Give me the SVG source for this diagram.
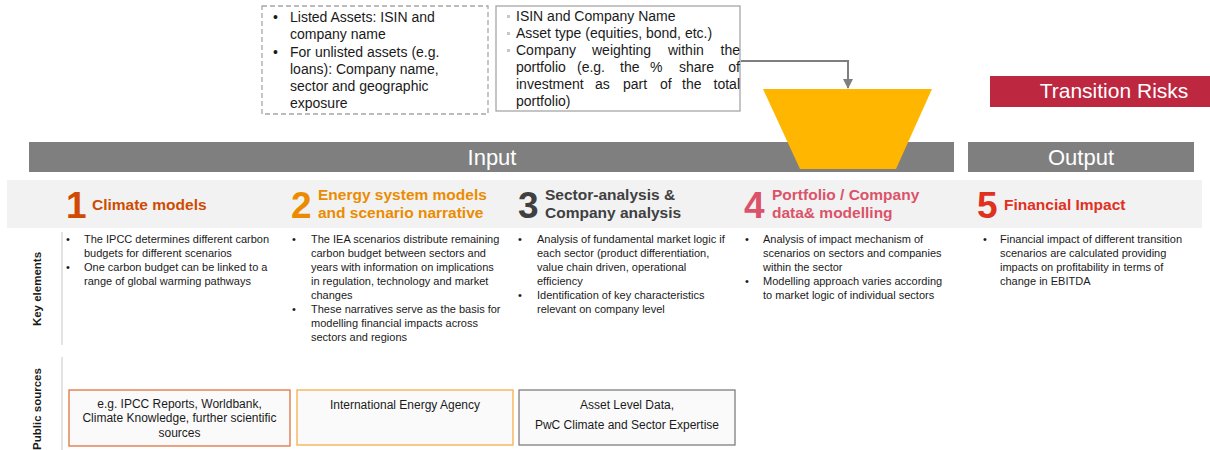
<svg xmlns="http://www.w3.org/2000/svg" width="1210" height="450" viewBox="0 0 1210 450">
<defs>
<style>
text{font-family:"Liberation Sans",Arial,sans-serif;}
.top{font-size:14px;fill:#1a1a1a;}
.e{text-anchor:end;}
.b{font-size:11px;fill:#1a1a1a;}
.num{font-size:37px;font-weight:bold;}
.hd{font-size:15.5px;font-weight:bold;}
.bar{fill:#7f7f7f;}
.bartxt{font-size:22px;fill:#ffffff;text-anchor:middle;}
.side{font-size:11.5px;font-weight:bold;fill:#1a1a1a;text-anchor:middle;}
.src{font-size:12px;fill:#1a1a1a;text-anchor:middle;}
.sep{stroke:#c8c8c8;stroke-width:1;}
</style>
<marker id="arr" viewBox="0 0 10 10" refX="9" refY="5" markerWidth="5" markerHeight="5" orient="auto" markerUnits="strokeWidth">
<path d="M0,0 L10,5 L0,10 z" fill="#7f7f7f"/>
</marker>
</defs>
<rect width="1210" height="450" fill="#ffffff"/>

<g id="unlisted-box">
<rect x="262" y="6" width="226" height="108" fill="none" stroke="#a6a6a6" stroke-width="1.3" stroke-dasharray="5,3"/>
<text class="top" x="273" y="22">•</text>
<text class="top" x="290" y="22">Listed Assets: ISIN and</text>
<text class="top" x="290" y="39">company name</text>
<text class="top" x="273" y="57">•</text>
<text class="top" x="290" y="57">For unlisted assets (e.g.</text>
<text class="top" x="290" y="74">loans): Company name,</text>
<text class="top" x="290" y="91">sector and geographic</text>
<text class="top" x="290" y="108">exposure</text>
</g>

<g id="portfolio-box">
<rect x="496" y="6" width="244" height="105" fill="none" stroke="#a6a6a6" stroke-width="1.3"/>
<rect x="507" y="15" width="3" height="3" fill="#c8c8c8"/>
<rect x="507" y="32" width="3" height="3" fill="#c8c8c8"/>
<rect x="507" y="49" width="3" height="3" fill="#c8c8c8"/>
<text class="top" x="516" y="21">ISIN and Company Name</text>
<text class="top" x="516" y="38">Asset type (equities, bond, etc.)</text>
<text class="top" x="516" y="55">Company</text>
<text class="top" x="592" y="55">weighting</text>
<text class="top" x="668" y="55">within</text>
<text class="top e" x="740" y="55">the</text>
<text class="top" x="516" y="72">portfolio</text>
<text class="top" x="577" y="72">(e.g.</text>
<text class="top" x="620" y="72">the</text>
<text class="top" x="650" y="72">%</text>
<text class="top" x="679" y="72">share</text>
<text class="top e" x="740" y="72">of</text>
<text class="top" x="516" y="89">investment</text>
<text class="top" x="595" y="89">as</text>
<text class="top" x="623" y="89">part</text>
<text class="top" x="660" y="89">of</text>
<text class="top" x="682" y="89">the</text>
<text class="top e" x="740" y="89">total</text>
<text class="top" x="516" y="106">portfolio)</text>
</g>

<g id="transition-risks">
<rect x="990" y="76" width="220" height="31" fill="#bd2740"/>
<text x="1114" y="98" font-size="21" fill="#ffffff" text-anchor="middle">Transition Risks</text>
</g>

<g id="input-bar">
<rect class="bar" x="29" y="142" width="925" height="30"/>
<text class="bartxt" x="492" y="165">Input</text>
</g>
<g id="output-bar">
<rect class="bar" x="968" y="142" width="226" height="30"/>
<text class="bartxt" x="1081" y="165">Output</text>
</g>

<g id="funnel">
<polygon points="763,89 932,89 896,169 800,169" fill="#ffb600"/>
</g>

<g id="connectors">
<polyline points="741,61 848,61 848,88" fill="none" stroke="#7f7f7f" stroke-width="2" marker-end="url(#arr)"/>
</g>

<g id="header-band">
<rect x="7" y="180" width="1195" height="48" fill="#f2f2f2"/>
</g>

<g id="col1">
<text class="num" x="66" y="218" fill="#d04a02">1</text>
<text class="hd" x="92" y="210" fill="#d04a02">Climate models</text>
<text class="b" x="66" y="243">•</text>
<text class="b" x="84" y="243">The IPCC determines different carbon</text>
<text class="b" x="84" y="257">budgets for different scenarios</text>
<text class="b" x="66" y="271">•</text>
<text class="b" x="84" y="271">One carbon budget can be linked to a</text>
<text class="b" x="84" y="285">range of global warming pathways</text>
<rect x="69" y="390" width="221" height="56" fill="#fafafa" stroke="#e0733f" stroke-width="1.3"/>
<text class="src" x="179.5" y="408">e.g. IPCC Reports, Worldbank,</text>
<text class="src" x="179.5" y="422">Climate Knowledge, further scientific</text>
<text class="src" x="179.5" y="437">sources</text>
</g>

<g id="col2">
<text class="num" x="291" y="218" fill="#eb8c00">2</text>
<text class="hd" x="318" y="200" fill="#eb8c00">Energy system models</text>
<text class="hd" x="318" y="218" fill="#eb8c00">and scenario narrative</text>
<text class="b" x="292" y="243">•</text>
<text class="b" x="311" y="243">The IEA scenarios distribute remaining</text>
<text class="b" x="311" y="257">carbon budget between sectors and</text>
<text class="b" x="311" y="271">years with information on implications</text>
<text class="b" x="311" y="285">in regulation, technology and market</text>
<text class="b" x="311" y="299">changes</text>
<text class="b" x="292" y="313">•</text>
<text class="b" x="311" y="313">These narratives serve as the basis for</text>
<text class="b" x="311" y="327">modelling financial impacts across</text>
<text class="b" x="311" y="341">sectors and regions</text>
<rect x="297" y="390" width="216" height="55" fill="#fafafa" stroke="#f5b04a" stroke-width="1.3"/>
<text class="src" x="405" y="409">International Energy Agency</text>
</g>

<g id="col3">
<text class="num" x="518" y="218" fill="#404041">3</text>
<text class="hd" x="545" y="200" fill="#404041">Sector-analysis &amp;</text>
<text class="hd" x="545" y="218" fill="#404041">Company analysis</text>
<text class="b" x="518" y="243">•</text>
<text class="b" x="537" y="243">Analysis of fundamental market logic if</text>
<text class="b" x="537" y="257">each sector (product differentiation,</text>
<text class="b" x="537" y="271">value chain driven, operational</text>
<text class="b" x="537" y="285">efficiency</text>
<text class="b" x="518" y="299">•</text>
<text class="b" x="537" y="299">Identification of key characteristics</text>
<text class="b" x="537" y="313">relevant on company level</text>
<rect x="519" y="390" width="216" height="55" fill="#fafafa" stroke="#7f7f7f" stroke-width="1.3"/>
<text class="src" x="627" y="409">Asset Level Data,</text>
<text class="src" x="627" y="429">PwC Climate and Sector Expertise</text>
</g>

<g id="col4">
<text class="num" x="744" y="218" fill="#db536a">4</text>
<text class="hd" x="772" y="200" fill="#db536a">Portfolio / Company</text>
<text class="hd" x="772" y="218" fill="#db536a">data&amp; modelling</text>
<text class="b" x="745" y="243">•</text>
<text class="b" x="763" y="243">Analysis of impact mechanism of</text>
<text class="b" x="763" y="257">scenarios on sectors and companies</text>
<text class="b" x="763" y="271">within the sector</text>
<text class="b" x="745" y="285">•</text>
<text class="b" x="763" y="285">Modelling approach varies according</text>
<text class="b" x="763" y="299">to market logic of individual sectors</text>
</g>

<g id="col5">
<text class="num" x="977" y="218" fill="#e0301e">5</text>
<text class="hd" x="1004" y="210" fill="#e0301e">Financial Impact</text>
<text class="b" x="983" y="243">•</text>
<text class="b" x="1000" y="243">Financial impact of different transition</text>
<text class="b" x="1000" y="257">scenarios are calculated providing</text>
<text class="b" x="1000" y="271">impacts on profitability in terms of</text>
<text class="b" x="1000" y="285">change in EBITDA</text>
</g>

<g id="row-labels">
<line class="sep" x1="62" y1="232" x2="62" y2="345"/>
<line class="sep" x1="62" y1="357" x2="62" y2="450"/>
<text class="side" transform="translate(41,289) rotate(-90)">Key elements</text>
<text class="side" transform="translate(41,409) rotate(-90)">Public sources</text>
</g>
</svg>
